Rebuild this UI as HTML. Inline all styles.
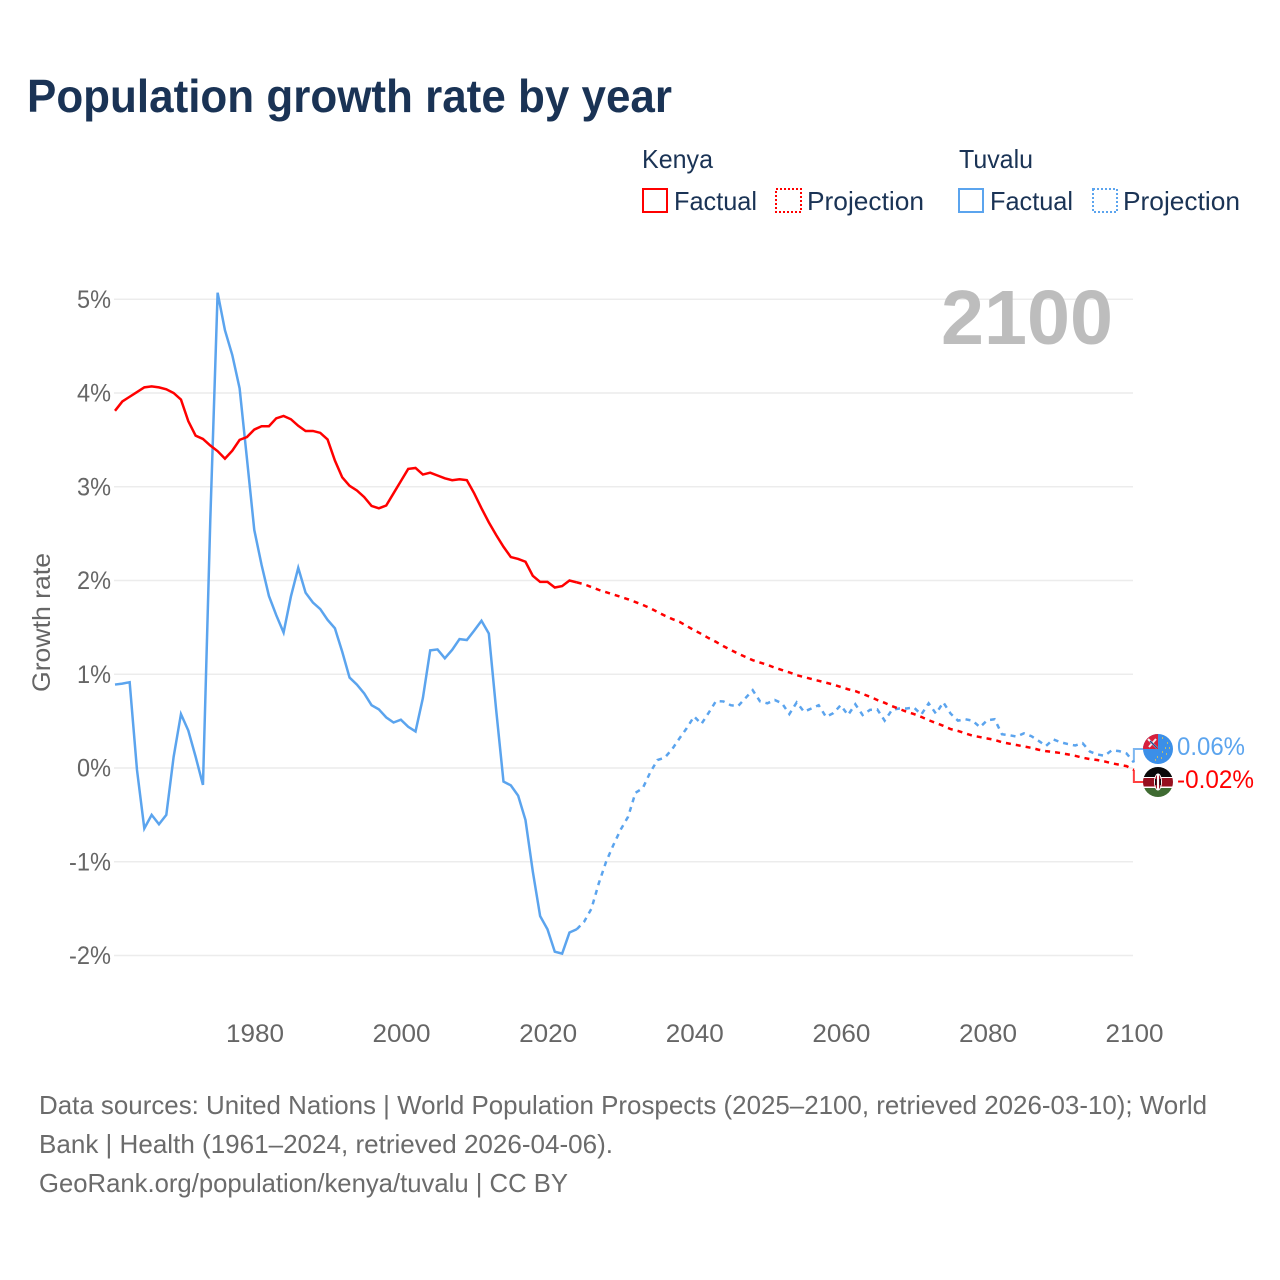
<!DOCTYPE html>
<html lang="en">
<head>
<meta charset="utf-8">
<title>Population growth rate by year</title>
<style>
html,body{margin:0;padding:0;background:#fff;}
svg{display:block;}
text{font-family:"Liberation Sans",sans-serif;}
</style>
</head>
<body>
<svg id="chart" width="1280" height="1280" viewBox="0 0 1280 1280" xmlns="http://www.w3.org/2000/svg">
  <rect width="1280" height="1280" fill="#fff"/>
  <text x="27" y="112" font-size="46" font-weight="700" fill="#1a3355" textLength="645" lengthAdjust="spacingAndGlyphs">Population growth rate by year</text>

  <g>
    <text x="642" y="168" font-size="26" fill="#1a3355" textLength="71" lengthAdjust="spacingAndGlyphs">Kenya</text>
    <text x="959" y="168" font-size="26" fill="#1a3355" textLength="74" lengthAdjust="spacingAndGlyphs">Tuvalu</text>
    <rect x="643" y="189" width="24" height="23" fill="none" stroke="#ff0000" stroke-width="2"/>
    <text x="674" y="210" font-size="26" fill="#1a3355" textLength="83" lengthAdjust="spacingAndGlyphs">Factual</text>
    <rect x="776" y="189" width="25" height="23" fill="none" stroke="#ff0000" stroke-width="2" stroke-dasharray="2 2"/>
    <text x="807" y="210" font-size="26" fill="#1a3355" textLength="117" lengthAdjust="spacingAndGlyphs">Projection</text>
    <rect x="959" y="189" width="24" height="23" fill="none" stroke="#5ba4ee" stroke-width="2"/>
    <text x="990" y="210" font-size="26" fill="#1a3355" textLength="83" lengthAdjust="spacingAndGlyphs">Factual</text>
    <rect x="1093" y="189" width="24" height="23" fill="none" stroke="#5ba4ee" stroke-width="2" stroke-dasharray="2 2"/>
    <text x="1123" y="210" font-size="26" fill="#1a3355" textLength="117" lengthAdjust="spacingAndGlyphs">Projection</text>
  </g>

  <g id="grid"></g>
  <g id="yticks"></g>
  <g id="xticks"></g>

  <text transform="translate(50,692) rotate(-90)" font-size="25" fill="#666" textLength="139" lengthAdjust="spacingAndGlyphs">Growth rate</text>
  <text x="941" y="344" font-size="77" font-weight="700" fill="#bdbdbd" textLength="172" lengthAdjust="spacingAndGlyphs">2100</text>

  <g id="series"></g>

  <defs>
    <clipPath id="clip-tv"><circle cx="1158" cy="749" r="15"/></clipPath>
    <clipPath id="clip-ke"><circle cx="1158" cy="782" r="15"/></clipPath>
  </defs>
  <g clip-path="url(#clip-tv)">
    <rect x="1143" y="734" width="30" height="30" fill="#3b8fe8"/>
    <rect x="1143" y="734" width="15" height="15" fill="#d8203c"/>
    <path d="M1148 739L1157 748M1156 739L1149 747" stroke="#f2f2f2" stroke-width="2"/>
    <path d="M1150 741L1157 748" stroke="#2b4a8c" stroke-width="1.500"/>
    <path d="M1162 738h1M1167 743h1M1165 748h1M1169 748h1M1162 752h1M1166 754h1M1157 757h1M1161 758h1M1155 760h1" stroke="#e8c84a" stroke-width="1.500"/>
  </g>
  <g clip-path="url(#clip-ke)">
    <rect x="1143" y="767" width="30" height="10" fill="#0a0a0a"/>
    <rect x="1143" y="777" width="30" height="1.500" fill="#fff"/>
    <rect x="1143" y="778" width="30" height="8.500" fill="#96101f"/>
    <rect x="1143" y="786.500" width="30" height="1.500" fill="#fff"/>
    <rect x="1143" y="788" width="30" height="9" fill="#3f6b32"/>
    <ellipse cx="1158" cy="782" rx="3.500" ry="8" fill="#96101f" stroke="#fff" stroke-width="1"/>
    <rect x="1157" y="774" width="2" height="16" fill="#fff"/>
    <rect x="1155" y="779" width="1.500" height="6" fill="#111"/>
    <rect x="1159.500" y="779" width="1.500" height="6" fill="#111"/>
  </g>
  <text x="1177" y="755" font-size="25" fill="#5ba4ee" textLength="68" lengthAdjust="spacingAndGlyphs">0.06%</text>
  <text x="1177" y="788" font-size="25" fill="#ff0000" textLength="77" lengthAdjust="spacingAndGlyphs">-0.02%</text>

  <g font-size="26" fill="#6b6b6b">
    <text x="39" y="1114" textLength="1168" lengthAdjust="spacingAndGlyphs">Data sources: United Nations | World Population Prospects (2025–2100, retrieved 2026-03-10); World</text>
    <text x="39" y="1153" textLength="574" lengthAdjust="spacingAndGlyphs">Bank | Health (1961–2024, retrieved 2026-04-06).</text>
    <text x="39" y="1192" textLength="529" lengthAdjust="spacingAndGlyphs">GeoRank.org/population/kenya/tuvalu | CC BY</text>
  </g>
</svg>
<script>
const yTickValues = [5, 4, 3, 2, 1, 0, -1, -2];
const yTickLabels = ["5%", "4%", "3%", "2%", "1%", "0%", "-1%", "-2%"];
const xTickValues = [1980, 2000, 2020, 2040, 2060, 2080, 2100];
const xTickLabels = ["1980", "2000", "2020", "2040", "2060", "2080", "2100"];

const factualStartYear = 1961;
const projectionStartYear = 2024;

const kenyaFactual = [
  3.81, 3.91, 3.96, 4.01, 4.06, 4.07, 4.06, 4.04, 4.00, 3.93,
  3.70, 3.545, 3.51, 3.44, 3.38, 3.30, 3.385, 3.50, 3.53, 3.61,
  3.645, 3.645, 3.73, 3.755, 3.72, 3.65, 3.595, 3.595, 3.575, 3.505,
  3.28, 3.10, 3.01, 2.96, 2.89, 2.795, 2.77, 2.80, 2.93, 3.06,
  3.19, 3.20, 3.13, 3.15, 3.12, 3.09, 3.07, 3.08, 3.07, 2.93,
  2.77, 2.62, 2.485, 2.36, 2.25, 2.23, 2.20, 2.05, 1.985, 1.985,
  1.925, 1.94, 2.00, 1.98
];
const kenyaProjection = [
  1.98, 1.96, 1.93, 1.90, 1.875, 1.85, 1.825, 1.80, 1.77, 1.74,
  1.705, 1.665, 1.625, 1.59, 1.56, 1.515, 1.47, 1.43, 1.385, 1.345,
  1.30, 1.26, 1.22, 1.185, 1.15, 1.125, 1.10, 1.07, 1.045, 1.02,
  0.99, 0.97, 0.95, 0.93, 0.91, 0.89, 0.865, 0.84, 0.82, 0.79,
  0.76, 0.725, 0.695, 0.66, 0.63, 0.60, 0.575, 0.545, 0.51, 0.48,
  0.45, 0.415, 0.395, 0.37, 0.345, 0.33, 0.315, 0.30, 0.275, 0.26,
  0.245, 0.23, 0.215, 0.195, 0.18, 0.17, 0.16, 0.145, 0.13, 0.11,
  0.095, 0.085, 0.07, 0.05, 0.035, 0.02, -0.02
];
const tuvaluFactual = [
  0.89, 0.90, 0.915, -0.02, -0.645, -0.50, -0.60, -0.50, 0.12, 0.575,
  0.40, 0.12, -0.18, 2.645, 5.07, 4.67, 4.405, 4.05, 3.30, 2.54,
  2.165, 1.835, 1.63, 1.445, 1.83, 2.135, 1.87, 1.765, 1.695, 1.58,
  1.49, 1.24, 0.965, 0.89, 0.795, 0.67, 0.625, 0.54, 0.485, 0.515,
  0.44, 0.39, 0.745, 1.255, 1.265, 1.17, 1.26, 1.375, 1.365, 1.465,
  1.57, 1.435, 0.62, -0.145, -0.185, -0.295, -0.555, -1.105, -1.58, -1.72,
  -1.96, -1.98, -1.755, -1.72
];
const tuvaluProjection = [
  -1.72, -1.64, -1.50, -1.23, -1.00, -0.82, -0.655, -0.52, -0.265, -0.215,
  -0.05, 0.085, 0.11, 0.20, 0.315, 0.425, 0.55, 0.47, 0.59, 0.715,
  0.71, 0.67, 0.66, 0.745, 0.83, 0.71, 0.69, 0.725, 0.69, 0.575,
  0.70, 0.60, 0.635, 0.67, 0.545, 0.585, 0.67, 0.565, 0.68, 0.565,
  0.62, 0.625, 0.505, 0.62, 0.635, 0.635, 0.645, 0.57, 0.69, 0.58,
  0.70, 0.58, 0.505, 0.52, 0.505, 0.435, 0.51, 0.52, 0.36, 0.35,
  0.335, 0.37, 0.34, 0.29, 0.235, 0.305, 0.275, 0.255, 0.24, 0.265,
  0.175, 0.145, 0.13, 0.19, 0.18, 0.155, 0.06
];

const NS = "http://www.w3.org/2000/svg";
const xScale = function (year) { return 115 + (year - 1961) * 7.33; };
const yScale = function (value) { return 768 - value * 93.75; };

function linePath(startYear, values) {
  return values.map(function (v, i) {
    return (i ? "L" : "M") + xScale(startYear + i).toFixed(2) + " " + yScale(v).toFixed(2);
  }).join("");
}
function labelWidth(s) {
  let w = 0;
  for (const c of s) { w += c === "%" ? 19.5 : c === "-" ? 8 : 14.5; }
  return w;
}

const grid = document.getElementById("grid");
const yticks = document.getElementById("yticks");
const xticks = document.getElementById("xticks");
const series = document.getElementById("series");

yTickValues.forEach(function (v, i) {
  const gl = document.createElementNS(NS, "line");
  
  
  gl.setAttribute("x1", 114);
  gl.setAttribute("x2", 1133);
  gl.setAttribute("y1", yScale(v));
  gl.setAttribute("y2", yScale(v));
  gl.setAttribute("stroke", "#ececec");
  gl.setAttribute("stroke-width", "1.5");
  grid.appendChild(gl);

  const t = document.createElementNS(NS, "text");
  
  
  t.setAttribute("x", 111);
  t.setAttribute("y", yScale(v) + 8.5);
  t.setAttribute("text-anchor", "end");
  t.setAttribute("font-size", "25");
  t.setAttribute("fill", "#666");
  t.setAttribute("textLength", labelWidth(yTickLabels[i]));
  t.setAttribute("lengthAdjust", "spacingAndGlyphs");
  t.textContent = yTickLabels[i];
  yticks.appendChild(t);
});

xTickValues.forEach(function (v, i) {
  const t = document.createElementNS(NS, "text");
  
  
  t.setAttribute("x", xScale(v) + 0.7);
  t.setAttribute("y", 1042);
  t.setAttribute("text-anchor", "middle");
  t.setAttribute("font-size", "25");
  t.setAttribute("fill", "#666");
  t.setAttribute("textLength", labelWidth(xTickLabels[i]));
  t.setAttribute("lengthAdjust", "spacingAndGlyphs");
  t.textContent = xTickLabels[i];
  xticks.appendChild(t);
});

const kenyaLast = kenyaProjection[kenyaProjection.length - 1];
const tuvaluLast = tuvaluProjection[tuvaluProjection.length - 1];
const endX = xScale(projectionStartYear + kenyaProjection.length - 1);

const tvConn = document.createElementNS(NS, "path");


tvConn.setAttribute("d", "M" + endX + " " + yScale(tuvaluLast) + "V749H1145");
tvConn.setAttribute("fill", "none");
tvConn.setAttribute("stroke", "#7db6f0");
tvConn.setAttribute("stroke-width", "2");
series.appendChild(tvConn);

const keConn = document.createElementNS(NS, "path");


keConn.setAttribute("d", "M" + endX + " " + yScale(kenyaLast) + "V782H1145");
keConn.setAttribute("fill", "none");
keConn.setAttribute("stroke", "#ff4040");
keConn.setAttribute("stroke-width", "2");
series.appendChild(keConn);

const tvFactLine = document.createElementNS(NS, "path");


tvFactLine.setAttribute("d", linePath(factualStartYear, tuvaluFactual));
tvFactLine.setAttribute("fill", "none");
tvFactLine.setAttribute("stroke", "#5ba4ee");
tvFactLine.setAttribute("stroke-width", "2.5");
series.appendChild(tvFactLine);

const tvProjLine = document.createElementNS(NS, "path");


tvProjLine.setAttribute("d", linePath(projectionStartYear, tuvaluProjection));
tvProjLine.setAttribute("fill", "none");
tvProjLine.setAttribute("stroke", "#5ba4ee");
tvProjLine.setAttribute("stroke-width", "2.5");
tvProjLine.setAttribute("stroke-dasharray", "5 5");
series.appendChild(tvProjLine);

const keFactLine = document.createElementNS(NS, "path");


keFactLine.setAttribute("d", linePath(factualStartYear, kenyaFactual));
keFactLine.setAttribute("fill", "none");
keFactLine.setAttribute("stroke", "#ff0000");
keFactLine.setAttribute("stroke-width", "2.5");
series.appendChild(keFactLine);

const keProjLine = document.createElementNS(NS, "path");


keProjLine.setAttribute("d", linePath(projectionStartYear, kenyaProjection));
keProjLine.setAttribute("fill", "none");
keProjLine.setAttribute("stroke", "#ff0000");
keProjLine.setAttribute("stroke-width", "2.5");
keProjLine.setAttribute("stroke-dasharray", "5 5");
series.appendChild(keProjLine);
</script>
</body>
</html>
